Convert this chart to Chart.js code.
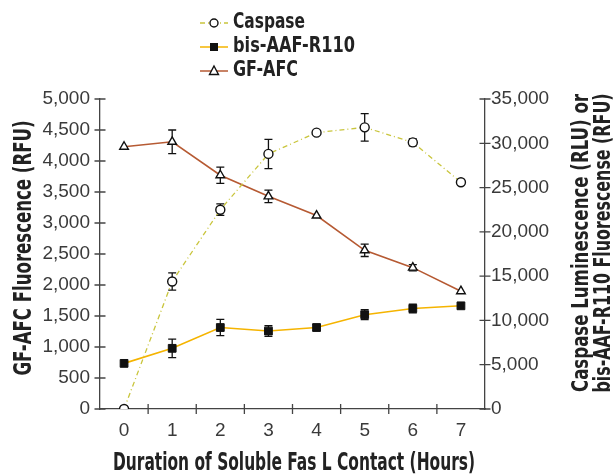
<!DOCTYPE html>
<html>
<head>
<meta charset="utf-8">
<script src="https://cdn.jsdelivr.net/npm/chart.js@4"></script>
<style>
  body { margin: 0; background: #fff; }
  #wrap { width: 616px; height: 474px; position: relative; }
</style>
</head>
<body>
<div id="wrap"><canvas id="chart"></canvas></div>
<script>
// Data
const hours = ["0", "1", "2", "3", "4", "5", "6", "7"];
const gfAfc = [4230, 4310, 3770, 3430, 3120, 2560, 2280, 1900];
const gfAfcErr = [30, 190, 130, 100, 40, 100, 50, 30];
const caspase = [0, 14400, 22500, 28800, 31200, 31800, 30100, 25600];
const caspaseErr = [0, 980, 650, 1650, 200, 1550, 400, 200];
const bisAaf = [5150, 6850, 9200, 8800, 9200, 10650, 11350, 11650];
const bisAafErr = [150, 1050, 920, 600, 350, 560, 500, 150];
const leftTicks = { min: 0, max: 5000, step: 500 };
const rightTicks = { min: 0, max: 35000, step: 5000 };

const axisColor = "#444";
const boldFont = '"Liberation Sans Narrow", "DejaVu Sans Condensed", "Liberation Sans", sans-serif';
const tickFont = { family: '"Liberation Sans", Arial, sans-serif', size: 19 };

const colCaspase = "#c9c53c";
const colBis = "#f5b400";
const colGf = "#b65a33";

// draws bold text stretched/squeezed to a given length
function fitText(ctx, text, cx, cy, len, size, rot) {
  ctx.save();
  ctx.translate(cx, cy);
  ctx.rotate(rot || 0);
  ctx.font = "bold " + size + "px " + boldFont;
  const w = ctx.measureText(text).width;
  ctx.scale(len / w, 1);
  ctx.fillStyle = "#222";
  ctx.textAlign = "center";
  ctx.textBaseline = "middle";
  ctx.fillText(text, 0, 0);
  ctx.restore();
}

function leftText(ctx, text, x, cy, len, size) {
  ctx.save();
  ctx.font = "bold " + size + "px " + boldFont;
  const w = ctx.measureText(text).width;
  ctx.translate(x, cy);
  ctx.scale(len / w, 1);
  ctx.fillStyle = "#222";
  ctx.textAlign = "left";
  ctx.textBaseline = "middle";
  ctx.fillText(text, 0, 0);
  ctx.restore();
}

function marker(ctx, kind, x, y) {
  ctx.save();
  ctx.lineWidth = 1.4;
  ctx.strokeStyle = "#111";
  ctx.beginPath();
  if (kind === "circle") {
    ctx.fillStyle = "#fff";
    ctx.arc(x, y, 4, 0, Math.PI * 2);
    ctx.fill();
    ctx.stroke();
  } else if (kind === "rect") {
    ctx.fillStyle = "#111";
    ctx.fillRect(x - 4, y - 4, 8, 8);
  } else {
    ctx.fillStyle = "#fff";
    ctx.moveTo(x, y - 5);
    ctx.lineTo(x + 4.5, y + 3.5);
    ctx.lineTo(x - 4.5, y + 3.5);
    ctx.closePath();
    ctx.fill();
    ctx.stroke();
  }
  ctx.restore();
}

const errSets = [caspaseErr, bisAafErr, gfAfcErr];

const extras = {
  id: "extras",
  beforeDatasetsDraw(chart) {
    const ctx = chart.ctx;
    const xs = chart.scales.x;
    ctx.save();
    ctx.strokeStyle = "#111";
    ctx.lineWidth = 1.3;
    chart.data.datasets.forEach((ds, i) => {
      const ys = chart.scales[ds.yAxisID];
      ds.data.forEach((v, j) => {
        const e = errSets[i][j];
        if (!e) return;
        const x = xs.getPixelForValue(j);
        const y1 = ys.getPixelForValue(v + e);
        const y2 = ys.getPixelForValue(v - e);
        if (y2 - y1 < 6) return;
        ctx.beginPath();
        ctx.moveTo(x, y1); ctx.lineTo(x, y2);
        ctx.moveTo(x - 4, y1); ctx.lineTo(x + 4, y1);
        ctx.moveTo(x - 4, y2); ctx.lineTo(x + 4, y2);
        ctx.stroke();
      });
    });
    ctx.restore();
  },
  afterDraw(chart) {
    const ctx = chart.ctx;
    const xs = chart.scales.x, yl = chart.scales.y, yr = chart.scales.y1;
    const area = chart.chartArea;

    // tick marks crossing the axes
    ctx.save();
    ctx.strokeStyle = axisColor;
    ctx.lineWidth = 1.3;
    ctx.beginPath();
    yl.ticks.forEach(t => {
      const y = yl.getPixelForValue(t.value);
      ctx.moveTo(area.left - 5.5, y); ctx.lineTo(area.left + 5.5, y);
    });
    yr.ticks.forEach(t => {
      const y = yr.getPixelForValue(t.value);
      ctx.moveTo(area.right - 5.5, y); ctx.lineTo(area.right + 5.5, y);
    });
    for (let k = 0; k < hours.length - 1; k++) {
      const x = (xs.getPixelForValue(k) + xs.getPixelForValue(k + 1)) / 2;
      ctx.moveTo(x, area.bottom - 5); ctx.lineTo(x, area.bottom + 5);
    }
    ctx.stroke();
    ctx.restore();

    // axis titles
    fitText(ctx, "GF-AFC Fluorescence (RFU)", 24, 248, 255, 25, -Math.PI / 2);
    fitText(ctx, "Caspase Luminescence (RLU) or", 582, 243, 298, 23, -Math.PI / 2);
    fitText(ctx, "bis-AAF-R110 Fluorescense (RFU)", 604, 243, 299, 23, -Math.PI / 2);
    fitText(ctx, "Duration of Soluble Fas L Contact (Hours)", 294, 463, 362, 25, 0);

    // legend
    const rows = [
      { text: "Caspase", color: colCaspase, dash: [5, 3, 1, 3], mk: "circle", y: 23, len: 72 },
      { text: "bis-AAF-R110", color: colBis, dash: [], mk: "rect", y: 47, len: 122 },
      { text: "GF-AFC", color: colGf, dash: [], mk: "tri", y: 71, len: 65 }
    ];
    rows.forEach(r => {
      ctx.save();
      ctx.strokeStyle = r.color;
      ctx.lineWidth = 1.5;
      ctx.setLineDash(r.dash);
      ctx.beginPath();
      ctx.moveTo(200, r.y); ctx.lineTo(228, r.y);
      ctx.stroke();
      ctx.restore();
      marker(ctx, r.mk, 214, r.y);
      leftText(ctx, r.text, 233, r.y, r.len, 21);
    });
  }
};

new Chart(document.getElementById("chart"), {
  type: "line",
  data: {
    labels: hours,
    datasets: [
      {
        label: "Caspase",
        data: caspase,
        yAxisID: "y1",
        borderColor: colCaspase,
        borderWidth: 1.3,
        borderDash: [5, 3, 1, 3],
        pointStyle: "circle",
        pointRadius: 4.5,
        pointBackgroundColor: "#fff",
        pointBorderColor: "#111",
        pointBorderWidth: 1.4,
        tension: 0
      },
      {
        label: "bis-AAF-R110",
        data: bisAaf,
        yAxisID: "y1",
        borderColor: colBis,
        borderWidth: 1.6,
        pointStyle: "rect",
        pointRadius: 5.5,
        pointBackgroundColor: "#111",
        pointBorderColor: "#111",
        pointBorderWidth: 1,
        tension: 0
      },
      {
        label: "GF-AFC",
        data: gfAfc,
        yAxisID: "y",
        borderColor: colGf,
        borderWidth: 1.6,
        pointStyle: "triangle",
        pointRadius: 5,
        pointBackgroundColor: "#fff",
        pointBorderColor: "#111",
        pointBorderWidth: 1.4,
        tension: 0
      }
    ]
  },
  options: {
    responsive: true,
    maintainAspectRatio: false,
    animation: false,
    layout: { padding: { top: 99, left: 0, right: 0, bottom: 0 } },
    plugins: { legend: { display: false }, tooltip: { enabled: false } },
    scales: {
      x: {
        type: "category",
        offset: true,
        grid: { display: true, drawOnChartArea: false, drawTicks: false, color: "transparent" },
        border: { display: true, color: axisColor, width: 1.3 },
        ticks: { font: tickFont, color: "#3a3a3a", padding: 10 },
        afterFit: s => { s.height = 65; }
      },
      y: {
        position: "left",
        min: leftTicks.min,
        max: leftTicks.max,
        grid: { display: true, drawOnChartArea: false, drawTicks: false, color: "transparent" },
        border: { display: true, color: axisColor, width: 1.3 },
        ticks: { stepSize: leftTicks.step, font: tickFont, color: "#3a3a3a", padding: 10 },
        afterFit: s => { s.width = 100; }
      },
      y1: {
        position: "right",
        min: rightTicks.min,
        max: rightTicks.max,
        grid: { display: true, drawOnChartArea: false, drawTicks: false, color: "transparent" },
        border: { display: true, color: axisColor, width: 1.3 },
        ticks: { stepSize: rightTicks.step, font: tickFont, color: "#3a3a3a", padding: 6 },
        afterFit: s => { s.width = 131; }
      }
    }
  },
  plugins: [extras]
});
</script>
</body>
</html>
